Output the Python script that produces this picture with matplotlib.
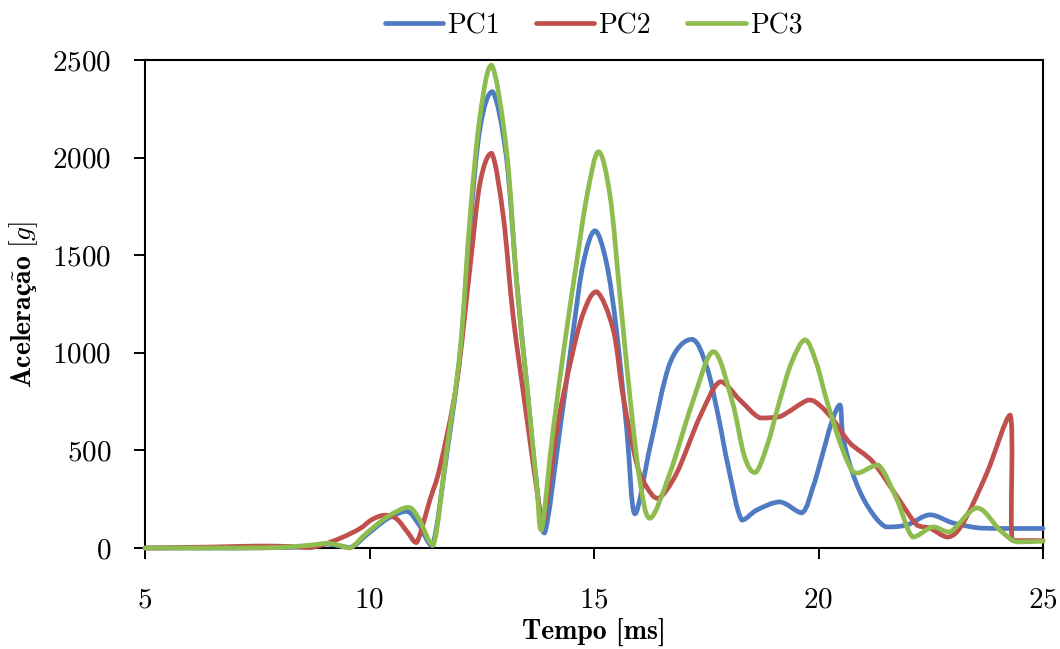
import matplotlib
matplotlib.use("Agg")
import matplotlib.pyplot as plt
import numpy as np
from matplotlib.path import Path
from matplotlib.patches import PathPatch
from matplotlib.lines import Line2D

# Time [ms] and acceleration [g] for the three measurement points
pc1_t = [5.0, 7.0, 8.5, 9.05, 9.57, 9.95, 10.4, 10.83, 11.1, 11.4, 11.72, 12.02,
         12.24, 12.46, 12.74, 13.05, 13.28, 13.5, 13.72, 13.9, 14.24, 14.54,
         14.76, 15.02, 15.28, 15.5, 15.73, 15.91, 16.25, 16.69, 17.18, 17.51,
         17.77, 17.99, 18.29, 18.63, 19.14, 19.63, 19.88, 20.03, 20.3, 20.48,
         20.55, 20.79, 21.1, 21.5, 21.97, 22.48, 23.0, 23.6, 24.2, 25.0]
pc1_a = [0, 0, 5, 20, 3, 70, 150, 188, 120, 12, 480, 1000,
         1650, 2150, 2338, 2000, 1356, 844, 331, 77, 604, 1117,
         1458, 1625, 1458, 1117, 604, 175, 519, 946, 1069, 929,
         673, 416, 143, 195, 236, 180, 314, 430, 650, 733,
         560, 364, 212, 108, 118, 170, 128, 102, 100, 100]

pc2_t = [5.0, 6.5, 7.5, 8.2, 8.67, 9.0, 9.4, 9.79, 10.05, 10.33, 10.6, 10.85,
         11.05, 11.35, 11.57, 11.94, 12.24, 12.46, 12.72, 12.98, 13.2, 13.5,
         13.76, 13.87, 14.17, 14.47, 14.76, 15.06, 15.43, 15.65, 15.95, 16.17,
         16.43, 16.84, 17.36, 17.81, 18.25, 18.7, 19.14, 19.77, 20.03, 20.33,
         20.7, 21.21, 21.75, 22.19, 22.48, 22.88, 23.22, 23.75, 24.27, 24.31,
         24.6, 25.0]
pc2_a = [0, 5, 10, 8, 2, 20, 55, 100, 145, 168, 150, 80,
         28, 250, 416, 844, 1441, 1868, 2022, 1698, 1185, 673,
         246, 127, 604, 946, 1202, 1313, 1117, 775, 434, 314,
         254, 383, 673, 852, 758, 666, 673, 758, 730, 656,
         538, 441, 263, 118, 102, 56, 128, 384, 681, 40,
         38, 38]

pc3_t = [5.0, 7.0, 8.0, 8.7, 9.05, 9.3, 9.57, 9.94, 10.4, 10.86, 11.1, 11.42,
         11.72, 12.02, 12.24, 12.46, 12.72, 13.05, 13.28, 13.5, 13.72, 13.83,
         14.09, 14.39, 14.61, 14.84, 15.1, 15.36, 15.58, 15.8, 16.02, 16.25,
         16.69, 17.2, 17.66, 18.07, 18.35, 18.59, 18.85, 19.14, 19.4, 19.7,
         19.95, 20.18, 20.45, 20.7, 20.88, 21.33, 21.75, 22.1, 22.55, 22.93,
         23.53, 24.04, 24.42, 25.0]
pc3_a = [0, 0, 3, 15, 24, 15, 0, 77, 160, 208, 150, 15,
         502, 1014, 1698, 2210, 2474, 2039, 1356, 844, 331, 92,
         604, 1117, 1458, 1800, 2030, 1800, 1288, 775, 348, 152,
         383, 750, 1006, 758, 470, 386, 520, 758, 950, 1066,
         950, 758, 560, 416, 384, 425, 246, 56, 108, 82,
         205, 92, 31, 35]

series_names = ["PC1", "PC2", "PC3"]
series_colors = ["#4F7BC3", "#C0504D", "#8FBC4F"]

x_ticks = [5, 10, 15, 20, 25]
y_ticks = [0, 500, 1000, 1500, 2000, 2500]

plt.rcParams["font.family"] = ["cmr10", "DejaVu Serif"]
plt.rcParams["mathtext.fontset"] = "cm"
plt.rcParams["axes.formatter.use_mathtext"] = True


def smooth_path(xs, ys):
    """Smoothed line through the points (Bezier segments, no overshoot)."""
    pts = np.column_stack([xs, ys]).astype(float)
    n = len(pts)
    verts = [pts[0]]
    codes = [Path.MOVETO]
    for i in range(n - 1):
        p0 = pts[i - 1] if i > 0 else pts[i]
        p1 = pts[i]
        p2 = pts[i + 1]
        p3 = pts[i + 2] if i + 2 < n else pts[i + 1]
        c1 = p1 + (p2 - p0) / 6.0
        c2 = p2 - (p3 - p1) / 6.0
        lo, hi = min(p1[1], p2[1]), max(p1[1], p2[1])
        c1[1] = np.clip(c1[1], lo, hi)
        c2[1] = np.clip(c2[1], lo, hi)
        verts += [c1, c2, p2]
        codes += [Path.CURVE4] * 3
    return Path(verts, codes)


fig = plt.figure(figsize=(10.6, 6.49), dpi=100)
ax = fig.add_axes([145 / 1060, 1 - 548 / 649, (1043 - 145) / 1060, (548 - 60) / 649])

lw = 3.4
handles = []
for t, a, name, col in zip([pc1_t, pc2_t, pc3_t], [pc1_a, pc2_a, pc3_a],
                           series_names, series_colors):
    patch = PathPatch(smooth_path(t, a), facecolor="none", edgecolor=col,
                      linewidth=lw, capstyle="round", joinstyle="round",
                      zorder=3, clip_on=False)
    ax.add_patch(patch)
    handles.append(Line2D([], [], color=col, linewidth=lw,
                          solid_capstyle="round", label=name))

ax.set_xlim(5, 25)
ax.set_ylim(0, 2500)
ax.set_xticks(x_ticks)
ax.set_yticks(y_ticks)
ax.tick_params(axis="both", direction="out", length=8, width=1.4, labelsize=21)
ax.tick_params(axis="y", pad=16)
ax.tick_params(axis="x", pad=20)
for s in ax.spines.values():
    s.set_linewidth(1.5)

ax.set_xlabel("Tempo [ms]", fontsize=20, fontweight="bold",
              family=["cmb10", "DejaVu Serif"], labelpad=3)
ax.set_ylabel(r"$\mathbf{Acelera}\mathbf{ç}\mathbf{\tilde{a}o}\ \mathbf{[}g\mathbf{]}$",
              fontsize=20, labelpad=9)

fig.legend(handles=handles, loc="center", bbox_to_anchor=(0.56, 1 - 26 / 649),
           ncol=3, frameon=False, fontsize=20, handlelength=2.1,
           handletextpad=0.15, columnspacing=1.3)

fig.savefig("out.png", dpi=100)
